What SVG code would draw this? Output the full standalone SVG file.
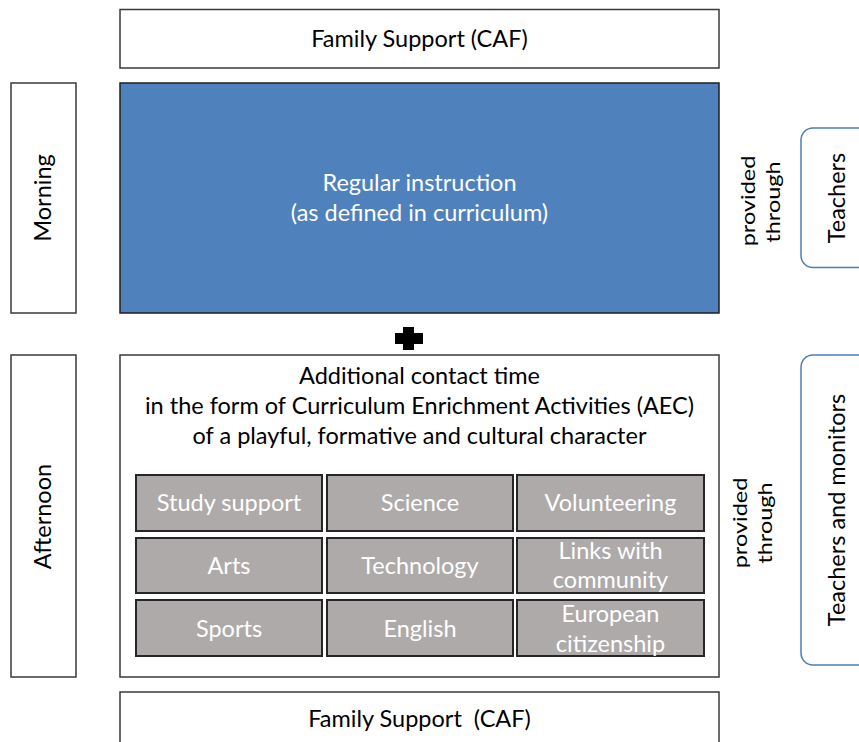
<svg xmlns="http://www.w3.org/2000/svg" width="859" height="742" viewBox="0 0 859 742">
<style>
text{font-family:Lato,"Open Sans",sans-serif;font-size:23.5px;fill:#000;text-anchor:middle;white-space:pre}
.box{fill:#fff;stroke:#3a3a3a;stroke-width:1.5}
.blue{fill:#4f81bd;stroke:#1f1f1f;stroke-width:1.5}
.cell{fill:#aeaaaa;stroke:#262626;stroke-width:2}
.res{fill:#fff;stroke:#4a7ebb;stroke-width:1.5}
.w{fill:#fff}
</style>
<rect width="859" height="742" fill="#fff"/>
<g id="family-top">
<rect class="box" x="120" y="9.5" width="599" height="58.5"/>
<text x="419.5" y="47">Family Support (CAF)</text>
</g>
<g id="morning">
<rect class="box" x="11" y="83" width="65" height="230"/>
<text transform="translate(51,198) rotate(-90)">Morning</text>
</g>
<g id="regular">
<rect class="blue" x="120" y="83" width="599" height="230"/>
<text class="w" x="419.5" y="190.5">Regular instruction</text>
<text class="w" x="419.5" y="221">(as defined in curriculum)</text>
</g>
<g id="plus">
<polygon points="403,327 414,327 414,333 423,333 423,344 414,344 414,350 403,350 403,344 395,344 395,333 403,333" fill="#000"/>
</g>
<g id="provided-1">
<text transform="translate(755,201) rotate(-90) scale(1,0.83)">provided</text>
<text transform="translate(780,202) rotate(-90) scale(1,0.83)">through</text>
</g>
<g id="teachers">
<rect class="res" x="801" y="128" width="80" height="139.5" rx="12"/>
<text transform="translate(845,198) rotate(-90)">Teachers</text>
</g>
<g id="afternoon">
<rect class="box" x="11" y="355" width="65" height="322"/>
<text transform="translate(51,516.5) rotate(-90)">Afternoon</text>
</g>
<g id="aec">
<rect class="box" x="120" y="355" width="599" height="322"/>
<text x="419.5" y="384">Additional contact time</text>
<text x="419.5" y="414">in the form of Curriculum Enrichment Activities (AEC)</text>
<text x="419.5" y="444">of a playful, formative and cultural character</text>
</g>
<g id="cells">
<g id="c-study"><rect class="cell" x="136" y="475" width="186" height="56"/><text class="w" x="229" y="511">Study support</text></g>
<g id="c-science"><rect class="cell" x="327" y="475" width="186" height="56"/><text class="w" x="420" y="511">Science</text></g>
<g id="c-volunteering"><rect class="cell" x="517" y="475" width="187" height="56"/><text class="w" x="610.5" y="511">Volunteering</text></g>
<g id="c-arts"><rect class="cell" x="136" y="538" width="186" height="55"/><text class="w" x="229" y="574">Arts</text></g>
<g id="c-technology"><rect class="cell" x="327" y="538" width="186" height="55"/><text class="w" x="420" y="574">Technology</text></g>
<g id="c-links"><rect class="cell" x="517" y="538" width="187" height="55"/><text class="w" x="610.5" y="559">Links with</text><text class="w" x="610.5" y="588">community</text></g>
<g id="c-sports"><rect class="cell" x="136" y="600" width="186" height="56"/><text class="w" x="229" y="637">Sports</text></g>
<g id="c-english"><rect class="cell" x="327" y="600" width="186" height="56"/><text class="w" x="420" y="637">English</text></g>
<g id="c-european"><rect class="cell" x="517" y="600" width="187" height="56"/><text class="w" x="610.5" y="622">European</text><text class="w" x="610.5" y="652">citizenship</text></g>
</g>
<g id="provided-2">
<text transform="translate(747,523) rotate(-90) scale(1,0.83)">provided</text>
<text transform="translate(772,523) rotate(-90) scale(1,0.83)">through</text>
</g>
<g id="teachers-monitors">
<rect class="res" x="801" y="355" width="80" height="310" rx="12"/>
<text transform="translate(845,510) rotate(-90)">Teachers and monitors</text>
</g>
<g id="family-bottom">
<rect class="box" x="120" y="692" width="599" height="70"/>
<text x="419.5" y="727">Family Support  (CAF)</text>
</g>
<g id="connectors"></g>
</svg>
